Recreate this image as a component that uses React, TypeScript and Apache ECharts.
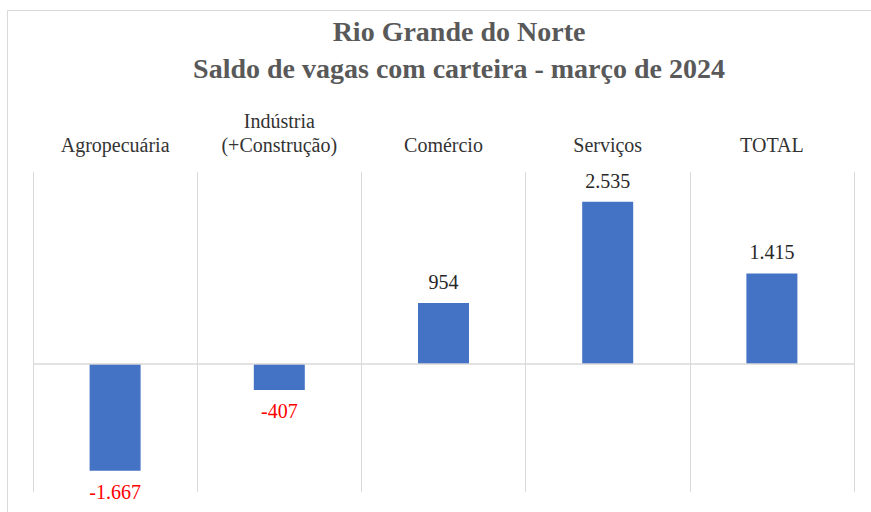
import React, { useEffect, useRef } from "react";
import * as echarts from "echarts";

const titleLines = ["Rio Grande do Norte", "Saldo de vagas com carteira - março de 2024"];
const categories = ["Agropecuária", "Indústria\n(+Construção)", "Comércio", "Serviços", "TOTAL"];
const values = [-1667, -407, 954, 2535, 1415];
const valueLabels = ["-1.667", "-407", "954", "2.535", "1.415"];

const FONT = "'Liberation Serif', 'Times New Roman', serif";

export default function App() {
  const ref = useRef<HTMLDivElement>(null);
  useEffect(() => {
    document.body.style.margin = "0";
    if (!ref.current) return;
    const chart = echarts.init(ref.current, undefined, { renderer: "svg" });
    chart.setOption({
      animation: false,
      backgroundColor: "#ffffff",
      graphic: [
        {
          type: "rect",
          shape: { x: 7.5, y: 10.5, width: 900, height: 600 },
          style: { fill: "none", stroke: "#d9d9d9", lineWidth: 1 },
          silent: true,
        },
        {
          type: "text",
          x: 459,
          y: 13,
          style: {
            text: titleLines.join("\n"),
            textAlign: "center",
            textVerticalAlign: "top",
            fontFamily: FONT,
            fontSize: 28,
            fontWeight: "bold",
            lineHeight: 37,
            fill: "#595959",
          },
        },
      ],
      grid: { left: 33, right: 17, top: 172, bottom: 20 },
      xAxis: {
        type: "category",
        data: categories,
        position: "top",
        boundaryGap: true,
        axisLine: { show: false, onZero: false },
        axisTick: { show: false },
        splitLine: { show: true, interval: 0, lineStyle: { color: "#d9d9d9", width: 1 } },
        axisLabel: {
          interval: 0,
          margin: 15,
          fontFamily: FONT,
          fontSize: 20,
          lineHeight: 24,
          color: "#333333",
        },
      },
      yAxis: {
        type: "value",
        min: -2000,
        max: 3000,
        axisLine: { show: false },
        axisTick: { show: false },
        axisLabel: { show: false },
        splitLine: { show: false },
      },
      series: [
        {
          type: "bar",
          barWidth: 51,
          itemStyle: { color: "#4472C4" },
          data: values.map((v, i) => ({
            value: v,
            label: {
              show: true,
              position: v < 0 ? "bottom" : "top",
              distance: 11,
              formatter: valueLabels[i],
              fontFamily: FONT,
              fontSize: 20,
              color: v < 0 ? "#ff0000" : "#262626",
            },
          })),
          markLine: {
            silent: true,
            symbol: "none",
            label: { show: false },
            lineStyle: { color: "#d9d9d9", width: 1.5, type: "solid" },
            data: [{ yAxis: 0 }],
          },
        },
      ],
    });
    return () => chart.dispose();
  }, []);
  return <div ref={ref} style={{ width: 871, height: 512 }} />;
}
